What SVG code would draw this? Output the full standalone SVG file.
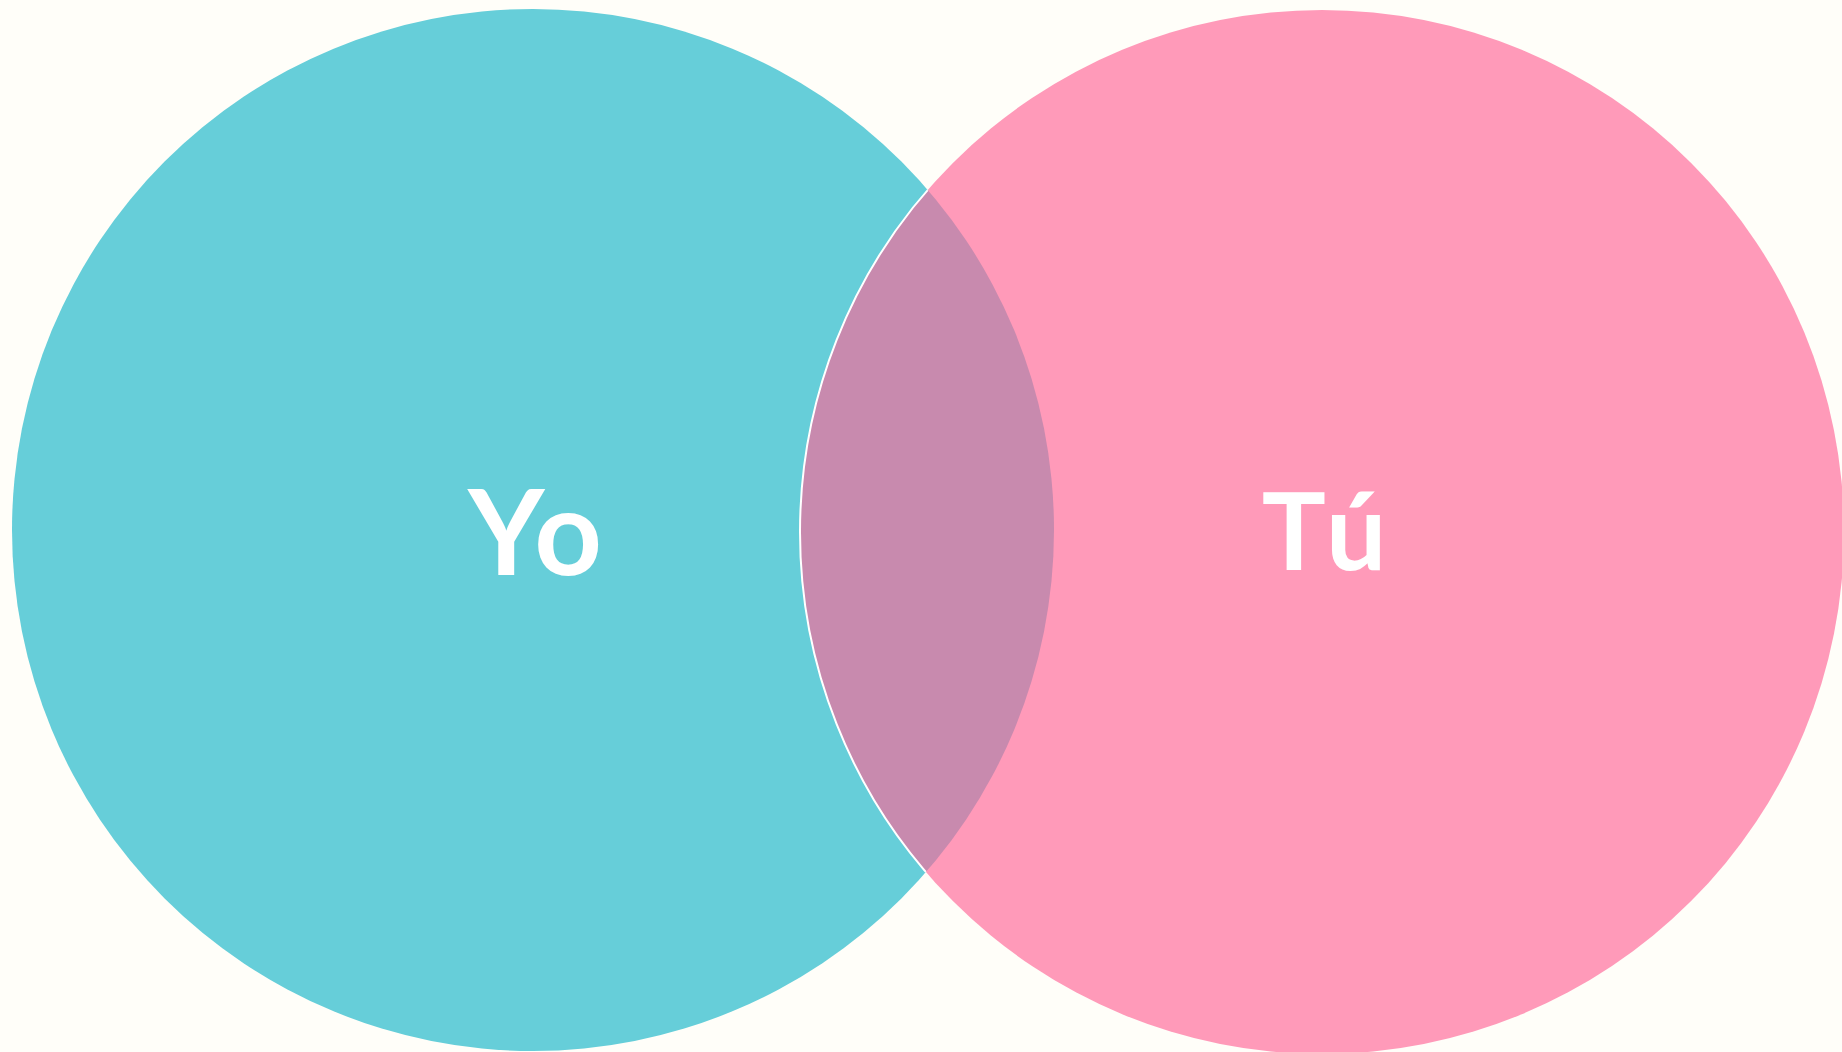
<svg xmlns="http://www.w3.org/2000/svg" width="1842" height="1052" viewBox="0 0 1842 1052">
  <style>
    .lbl { font-family: Lato, "Open Sans", "Liberation Sans", sans-serif; font-weight: 700; fill: #FFFFFF; text-anchor: middle; }
  </style>
  <defs>
    <clipPath id="clipYo">
      <circle cx="533" cy="530" r="521"/>
    </clipPath>
  </defs>
  <rect x="0" y="0" width="1842" height="1052" fill="#FFFEF9"/>
  <g id="node-yo">
    <circle cx="533" cy="530" r="521" fill="#66CED9"/>
  </g>
  <g id="node-tu">
    <circle cx="1322" cy="532" r="522" fill="#FF9AB9"/>
  </g>
  <g id="node-overlap">
    <circle cx="1322" cy="532" r="522" fill="#C88AAE" clip-path="url(#clipYo)"/>
    <circle cx="1322" cy="532" r="522" fill="none" stroke="#FFFFFF" stroke-width="2" clip-path="url(#clipYo)"/>
  </g>
  <g id="labels">
    <text class="lbl" x="535" y="575" font-size="118">Y<tspan dx="3">o</tspan></text>
    <text class="lbl" x="1324" y="570" font-size="107">T<tspan dx="10">ú</tspan></text>
  </g>
  <g id="connectors"></g>
</svg>
